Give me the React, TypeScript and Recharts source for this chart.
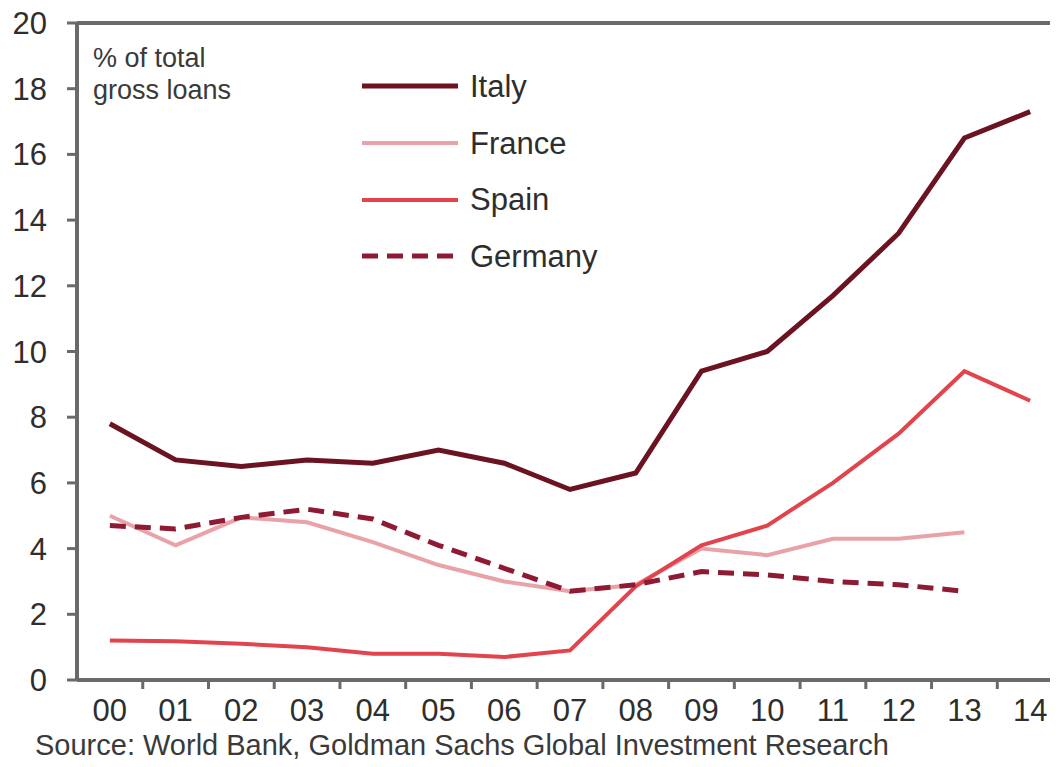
import { LineChart, Line, XAxis, YAxis, ReferenceLine } from 'recharts'

const years = ['00', '01', '02', '03', '04', '05', '06', '07', '08', '09', '10', '11', '12', '13', '14']
const italy = [7.8, 6.7, 6.5, 6.7, 6.6, 7.0, 6.6, 5.8, 6.3, 9.4, 10.0, 11.7, 13.6, 16.5, 17.3]
const france = [5.0, 4.1, 4.95, 4.8, 4.2, 3.5, 3.0, 2.7, 2.9, 4.0, 3.8, 4.3, 4.3, 4.5, null]
const spain = [1.2, 1.18, 1.1, 1.0, 0.8, 0.8, 0.7, 0.9, 2.85, 4.1, 4.7, 6.0, 7.5, 9.4, 8.5]
const germany = [4.7, 4.6, 4.95, 5.2, 4.9, 4.1, 3.4, 2.7, 2.9, 3.3, 3.2, 3.0, 2.9, 2.7, null]
const yTicks = [0, 2, 4, 6, 8, 10, 12, 14, 16, 18, 20]

const data = years.map((label, i) => ({
  x: i,
  label,
  Italy: italy[i],
  France: france[i],
  Spain: spain[i],
  Germany: germany[i]
}))

const series = [
  { key: 'Italy', color: '#6c1322', width: 5, dash: undefined },
  { key: 'France', color: '#e9a2a8', width: 4, dash: undefined },
  { key: 'Spain', color: '#e2444d', width: 4, dash: undefined },
  { key: 'Germany', color: '#8e1b33', width: 5, dash: '16 9' }
]

const font = '"Liberation Sans", Arial, sans-serif'
const axisGrey = '#6a6a6a'
const textColor = '#2e2e2e'
const bandHalf = 32.85
const labelGap = 19

// year label plus the small mark on the boundary to the left of it
const YearTick = ({ x, y, payload }: any) => (
  <g>
    {payload.value > 0 && (
      <line x1={x - bandHalf} y1={y - labelGap} x2={x - bandHalf} y2={y - labelGap + 9} stroke={axisGrey} strokeWidth={3} />
    )}
    <text x={x} y={y} dy="0.71em" textAnchor="middle" fill={textColor} fontSize={31} fontFamily={font}>
      {years[payload.value]}
    </text>
  </g>
)

const LegendBox = () => (
  <div style={{ position: 'absolute', left: 362, top: 58, fontFamily: font, fontSize: 31, color: textColor }}>
    {series.map((s) => (
      <div key={s.key} style={{ display: 'flex', alignItems: 'center', height: 56.7 }}>
        <svg width={100} height={12} style={{ display: 'block' }}>
          <line x1={0} y1={6} x2={96} y2={6} stroke={s.color} strokeWidth={s.width} strokeDasharray={s.dash} />
        </svg>
        <span style={{ marginLeft: 8, lineHeight: 1 }}>{s.key}</span>
      </div>
    ))}
  </div>
)

const App = () => {
  return (
    <div style={{ position: 'relative', width: 1058, height: 767, margin: -8, overflow: 'hidden', background: '#fff' }}>
      <LineChart width={1066} height={767} data={data} margin={{ top: 23, right: 3, bottom: 37, left: 0 }}>
        <XAxis
          type="number"
          dataKey="x"
          domain={[-0.5, 14.5]}
          ticks={years.map((_, i) => i)}
          tick={<YearTick />}
          tickLine={false}
          tickSize={0}
          tickMargin={labelGap}
          axisLine={{ stroke: axisGrey, strokeWidth: 4 }}
          height={50}
        />
        <YAxis
          domain={[0, 20]}
          ticks={yTicks}
          width={77}
          tick={{ fill: textColor, fontSize: 31, fontFamily: font }}
          tickSize={10}
          tickMargin={20}
          tickLine={{ stroke: axisGrey, strokeWidth: 3 }}
          axisLine={{ stroke: axisGrey, strokeWidth: 4 }}
        />
        <ReferenceLine y={20} stroke={axisGrey} strokeWidth={4} />
        {series.map((s) => (
          <Line
            key={s.key}
            type="linear"
            dataKey={s.key}
            stroke={s.color}
            strokeWidth={s.width}
            strokeDasharray={s.dash}
            dot={false}
            isAnimationActive={false}
          />
        ))}
      </LineChart>
      <LegendBox />
      <div
        style={{
          position: 'absolute',
          left: 93,
          top: 42,
          fontFamily: font,
          fontSize: 27,
          lineHeight: '32px',
          color: '#3a3a3a'
        }}
      >
        % of total
        <br />
        gross loans
      </div>
      <div
        style={{
          position: 'absolute',
          left: 35,
          top: 729,
          fontFamily: font,
          fontSize: 29,
          lineHeight: '32px',
          color: '#3a3a3a',
          whiteSpace: 'nowrap'
        }}
      >
        Source: World Bank, Goldman Sachs Global Investment Research
      </div>
    </div>
  )
}

export default App
